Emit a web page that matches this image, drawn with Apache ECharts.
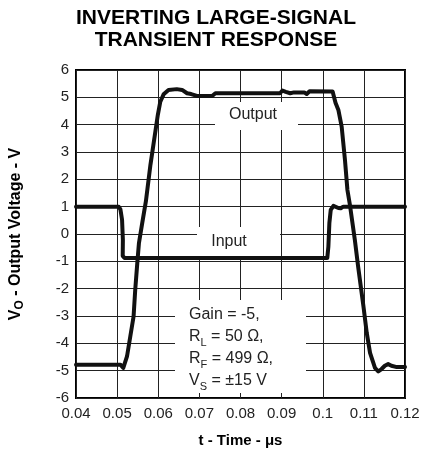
<!DOCTYPE html>
<html>
<head>
<meta charset="utf-8">
<script src="https://cdn.jsdelivr.net/npm/echarts@6/dist/echarts.min.js"></script>
<style>
html,body{margin:0;padding:0;background:#fff;}
#chart{width:425px;height:454px;}
</style>
</head>
<body>
<div id="chart"></div>
<script>
// ---- data ----
var titleText = 'INVERTING LARGE-SIGNAL\nTRANSIENT RESPONSE';
var xTickLabels = ['0.04','0.05','0.06','0.07','0.08','0.09','0.1','0.11','0.12'];
var yTickLabels = ['-6','-5','-4','-3','-2','-1','0','1','2','3','4','5','6'];
var xMin = 0.04, xMax = 0.12, xStep = 0.01;
var yMin = -6, yMax = 6, yStep = 1;

var inputTime = [0.04, 0.0504, 0.0508, 0.0512, 0.0514, 0.05136, 0.0518, 0.1011, 0.10137, 0.10161, 0.10194, 0.1026, 0.1038, 0.10437, 0.1050, 0.12];
var inputVolt = [1.0, 1.0, 0.9, 0.52, -0.21, -0.8, -0.88, -0.88, -0.46, 0.40, 0.88, 1.03, 0.95, 0.94, 1.0, 1.0];

var outputTime = [0.04, 0.0508, 0.0515, 0.0524, 0.0532, 0.0540, 0.0544, 0.0549, 0.0553, 0.0561, 0.0570, 0.0581, 0.0593, 0.0599, 0.0605, 0.0613, 0.0625, 0.0645, 0.0658, 0.0670, 0.0680, 0.0694, 0.0731, 0.0739, 0.0896, 0.0902, 0.0910, 0.0921, 0.0930, 0.0955, 0.0961, 0.0968, 0.1024, 0.1031, 0.1038, 0.1046, 0.1054, 0.1060, 0.1066, 0.1078, 0.1086, 0.1099, 0.1107, 0.1115, 0.1127, 0.1135, 0.1143, 0.1151, 0.1159, 0.1167, 0.1180, 0.12];
var outputVolt = [-4.78, -4.78, -4.9, -4.48, -3.75, -3.02, -2.04, -1.07, -0.34, 0.4, 1.2, 2.53, 3.75, 4.36, 4.84, 5.11, 5.27, 5.3, 5.27, 5.15, 5.12, 5.05, 5.05, 5.15, 5.15, 5.25, 5.2, 5.15, 5.18, 5.18, 5.12, 5.22, 5.21, 4.8, 4.54, 3.93, 2.71, 1.61, 1.07, -0.21, -1.19, -2.65, -3.62, -4.35, -4.9, -5.03, -4.94, -4.82, -4.76, -4.82, -4.87, -4.87];

var outputLabel = 'Output';
var inputLabel = 'Input';
var noteLines = ['{a|Gain = -5,}', '{a|R}{s|L}{a| = 50 Ω,}', '{a|R}{s|F}{a| = 499 Ω,}', '{a|V}{s|S}{a| = ±15 V}'];

function pairs(xs, ys){ return xs.map(function(x,i){ return [x, ys[i]]; }); }

var FONT = "'Liberation Sans', Arial, Helvetica, sans-serif";
var chart = echarts.init(document.getElementById('chart'), null, {renderer:'canvas'});
chart.setOption({
  animation: false,
  backgroundColor: '#fff',
  textStyle: {fontFamily: FONT},
  title: {
    text: titleText,
    left: 216, top: 7, textAlign: 'center', padding: 0,
    textStyle: {fontFamily: FONT, fontSize: 21, fontWeight: 'bold', color: '#000', lineHeight: 22}
  },
  grid: {left: 76, right: 20, top: 70, bottom: 56, show: true, borderColor: '#000', borderWidth: 2, backgroundColor: 'transparent'},
  xAxis: {
    type: 'value', min: xMin, max: xMax, interval: xStep,
    name: 't - Time - μs', nameLocation: 'middle', nameGap: 35,
    nameTextStyle: {fontFamily: FONT, fontSize: 15, fontWeight: 'bold', color: '#000'},
    axisLine: {show: false}, axisTick: {show: false},
    axisLabel: {fontFamily: FONT, fontSize: 15, color: '#222', margin: 8,
      formatter: function(v){ return xTickLabels[Math.round((v - xMin)/xStep)]; }},
    splitLine: {show: true, lineStyle: {color: '#222', width: 1}}
  },
  yAxis: {
    type: 'value', min: yMin, max: yMax, interval: yStep,
    name: '{b|V}{s|O}{b| - Output Voltage - V}', nameLocation: 'middle', nameGap: 50, nameRotate: 90,
    nameTextStyle: {fontFamily: FONT, color: '#000',
      rich: {
        b: {fontFamily: FONT, fontSize: 16, fontWeight: 'bold', color: '#000', lineHeight: 20, verticalAlign: 'middle'},
        s: {fontFamily: FONT, fontSize: 12, fontWeight: 'bold', color: '#000', lineHeight: 14, verticalAlign: 'bottom'}
      }},
    axisLine: {show: false}, axisTick: {show: false},
    axisLabel: {fontFamily: FONT, fontSize: 15, color: '#222', margin: 7,
      formatter: function(v){ return yTickLabels[Math.round((v - yMin)/yStep)]; }},
    splitLine: {show: true, lineStyle: {color: '#222', width: 1}}
  },
  graphic: [
    {type: 'rect', z: 1, shape: {x: 215, y: 102, width: 83, height: 28}, style: {fill: '#fff'}},
    {type: 'rect', z: 1, shape: {x: 197, y: 227, width: 83, height: 29}, style: {fill: '#fff'}},
    {type: 'rect', z: 1, shape: {x: 175, y: 300, width: 131, height: 93}, style: {fill: '#fff'}},
    {type: 'text', z: 2, x: 253, y: 115, style: {text: outputLabel, fontFamily: FONT, fontSize: 16, fill: '#222', align: 'center', verticalAlign: 'middle'}},
    {type: 'text', z: 2, x: 229, y: 242, style: {text: inputLabel, fontFamily: FONT, fontSize: 16, fill: '#222', align: 'center', verticalAlign: 'middle'}},
    {type: 'text', z: 2, x: 189, y: 304, style: {text: noteLines.join('\n'), fontFamily: FONT, fontSize: 16, fill: '#222', align: 'left', verticalAlign: 'top',
      rich: {
        a: {fontFamily: FONT, fontSize: 16, fill: '#222', lineHeight: 22, verticalAlign: 'middle'},
        s: {fontFamily: FONT, fontSize: 11, fill: '#222', lineHeight: 16, verticalAlign: 'bottom'}
      }}}
  ],
  series: [
    {type: 'line', name: 'Input', z: 10, data: pairs(inputTime, inputVolt), showSymbol: false, symbol: 'none',
      lineStyle: {color: '#111', width: 4, join: 'round', cap: 'round'}},
    {type: 'line', name: 'Output', z: 10, data: pairs(outputTime, outputVolt), showSymbol: false, symbol: 'none',
      lineStyle: {color: '#111', width: 4, join: 'round', cap: 'round'}}
  ]
});
</script>
</body>
</html>
